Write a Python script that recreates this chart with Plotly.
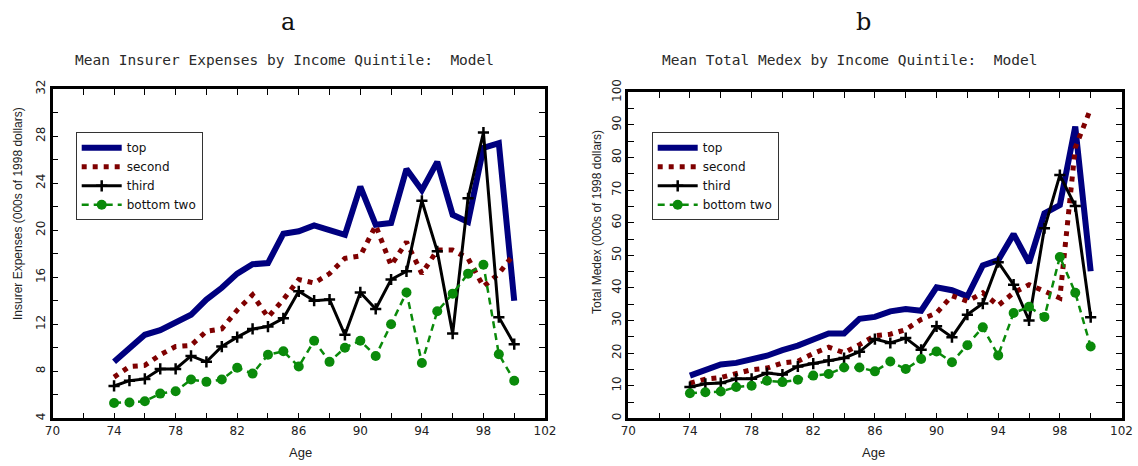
import plotly.graph_objects as go

W, H = 1138, 466

ages = list(range(74, 101))

# Mean insurer expenses (000s of 1998 dollars)
ins_top = [8.8, 10.0, 11.1, 11.5, 12.1, 12.8, 14.1, 15.1, 16.3, 17.1, 17.2, 19.7, 19.9,
           20.4, 20.0, 19.6, 23.7, 20.45, 20.6, 25.2, 23.4, 25.8, 21.3, 20.7, 27.0, 27.4, 14.0]
ins_second = [7.5, 8.4, 8.5, 9.4, 10.1, 10.2, 11.4, 11.6, 13.2, 14.5, 12.6, 14.1, 15.8,
              15.5, 16.3, 17.6, 17.8, 20.4, 17.0, 19.0, 16.3, 18.3, 18.3, 17.6, 15.2, 16.3, 18.0]
ins_third = [6.75, 7.2, 7.35, 8.2, 8.2, 9.3, 8.8, 10.1, 10.9, 11.6, 11.8, 12.5, 14.8,
             14.0, 14.1, 11.1, 14.7, 13.3, 15.8, 16.5, 22.5, 18.2, 11.2, 22.7, 28.3, 12.6, 10.3]
ins_bottom = [5.3, 5.35, 5.45, 6.1, 6.3, 7.3, 7.1, 7.3, 8.3, 7.8, 9.4, 9.7, 8.4,
              10.6, 8.8, 10.0, 10.6, 9.3, 12.0, 14.7, 8.7, 13.1, 14.6, 16.3, 17.05, 9.45, 7.2]

# Mean total medical expenses (000s of 1998 dollars)
med_top = [13.1, 14.9, 16.5, 17.0, 18.0, 19.2, 20.9, 22.3, 24.2, 26.0, 26.0, 30.5, 31.1,
           32.8, 33.5, 33.0, 40.2, 39.3, 37.4, 46.9, 48.5, 56.5, 47.7, 62.9, 65.4, 89.5, 45.1]
med_second = [10.8, 12.0, 12.5, 13.7, 14.9, 15.4, 17.0, 17.5, 19.9, 21.8, 20.1, 22.6, 25.3,
              25.8, 27.2, 30.3, 32.3, 37.6, 35.9, 38.5, 34.6, 38.5, 41.0, 39.0, 36.9, 83.0, 95.0]
med_third = [9.6, 10.6, 10.8, 12.1, 12.1, 13.9, 13.4, 15.9, 16.8, 17.7, 18.5, 20.4, 24.3,
             23.1, 24.6, 21.0, 28.2, 24.9, 31.8, 35.2, 47.9, 41.0, 30.0, 58.3, 74.6, 65.1, 31.0]
med_bottom = [7.7, 8.0, 8.2, 9.6, 10.0, 11.5, 11.1, 11.8, 13.1, 13.6, 15.6, 15.6, 14.4,
              17.4, 15.1, 18.2, 20.5, 17.2, 22.4, 27.9, 19.3, 32.3, 34.2, 31.1, 49.5, 38.5, 22.0]

series_names = ["top", "second", "third", "bottom two"]
panel_letters = ["a", "b"]
panel_titles = ["Mean Insurer Expenses by Income Quintile:  Model",
                "Mean Total Medex by Income Quintile:  Model"]
y_titles = ["Insurer Expenses (000s of 1998 dollars)",
            "Total Medex (000s of 1998 dollars)"]
x_title = "Age"

BLUE, RED, BLACK, GREEN = "#00007f", "#7f0000", "#000000", "#0a8a0a"
SANS = "DejaVu Sans"
MONO = "DejaVu Sans Mono"
LABEL = "Liberation Sans"


def px_x(v):
    return v / W


def px_y(v):
    return 1 - v / H


def add_panel(fig, data, xa, ya, legend):
    top, second, third, bottom = data
    fig.add_trace(go.Scatter(x=ages, y=top, name=series_names[0], mode="lines",
                             line=dict(color=BLUE, width=6),
                             xaxis=xa, yaxis=ya, legend=legend))
    fig.add_trace(go.Scatter(x=ages, y=second, name=series_names[1], mode="lines",
                             line=dict(color=RED, width=5, dash="5px,6px"),
                             xaxis=xa, yaxis=ya, legend=legend))
    fig.add_trace(go.Scatter(x=ages, y=third, name=series_names[2], mode="lines+markers",
                             line=dict(color=BLACK, width=3),
                             marker=dict(symbol="cross-thin", size=8,
                                         line=dict(color=BLACK, width=2.5)),
                             xaxis=xa, yaxis=ya, legend=legend))
    fig.add_trace(go.Scatter(x=ages, y=bottom, name=series_names[3], mode="lines+markers",
                             line=dict(color=GREEN, width=2.5, dash="7px,5px"),
                             marker=dict(symbol="circle", size=10, color=GREEN),
                             xaxis=xa, yaxis=ya, legend=legend))


fig = go.Figure()
add_panel(fig, (ins_top, ins_second, ins_third, ins_bottom), "x", "y", "legend")
add_panel(fig, (med_top, med_second, med_third, med_bottom), "x2", "y2", "legend2")

axis_common = dict(
    showline=True, linewidth=2.5, linecolor="black", mirror="allticks",
    ticks="inside", ticklen=6, tickwidth=1, tickcolor="black",
    showgrid=False, zeroline=False, automargin=False,
    tickfont=dict(family=SANS, size=12, color="#222"),
)

xdom_left = [px_x(52.5), px_x(545)]
xdom_right = [px_x(628.3), px_x(1121.5)]
ydom_left = [px_y(418.3), px_y(89)]
ydom_right = [px_y(418.3), px_y(92.3)]

legend_style = dict(xanchor="left", yanchor="top", bgcolor="white",
                    bordercolor="#333", borderwidth=1, itemwidth=40,
                    font=dict(family=SANS, size=12, color="#111"), tracegroupgap=0)

fig.update_layout(
    width=W, height=H, autosize=False,
    margin=dict(l=0, r=0, t=0, b=0, pad=0, autoexpand=False),
    paper_bgcolor="white", plot_bgcolor="white",
    xaxis=dict(domain=xdom_left, range=[70, 102], tickvals=list(range(70, 103, 4)),
               minor=dict(dtick=2, ticks="inside", ticklen=6, tickcolor="black"),
               anchor="y", **axis_common),
    yaxis=dict(domain=ydom_left, range=[4, 32], tickvals=list(range(4, 33, 4)),
               tickangle=-90,
               minor=dict(dtick=2, ticks="inside", ticklen=6, tickcolor="black"),
               anchor="x", **axis_common),
    xaxis2=dict(domain=xdom_right, range=[70, 102], tickvals=list(range(70, 103, 4)),
                minor=dict(dtick=2, ticks="inside", ticklen=6, tickcolor="black"),
                anchor="y2", **axis_common),
    yaxis2=dict(domain=ydom_right, range=[0, 100], tickvals=list(range(0, 101, 10)),
                tickangle=-90,
                minor=dict(dtick=5, ticks="inside", ticklen=6, tickcolor="black"),
                anchor="x2", **axis_common),
    legend=dict(x=px_x(75.7), y=px_y(132.3), **legend_style),
    legend2=dict(x=px_x(651.7), y=px_y(132.3), **legend_style),
)

annotations = []
# Panel letters
for letter, cx in zip(panel_letters, [288, 863]):
    annotations.append(dict(text=letter, x=px_x(cx), y=px_y(22), xref="paper", yref="paper",
                            showarrow=False, xanchor="center", yanchor="middle",
                            font=dict(family="DejaVu Serif", size=24, color="#111")))
# Panel titles
for title, cx in zip(panel_titles, [284, 849]):
    annotations.append(dict(text=title, x=px_x(cx), y=px_y(60), xref="paper", yref="paper",
                            showarrow=False, xanchor="center", yanchor="middle",
                            font=dict(family=MONO, size=14.5, color="#2a2a2a")))
# Axis titles
for cx in [300, 873]:
    annotations.append(dict(text=x_title, x=px_x(cx), y=px_y(452), xref="paper", yref="paper",
                            showarrow=False, xanchor="center", yanchor="middle",
                            font=dict(family=LABEL, size=13, color="#222")))
for ytitle, cx, cy in zip(y_titles, [18, 597], [214, 222]):
    annotations.append(dict(text=ytitle, x=px_x(cx), y=px_y(cy), xref="paper", yref="paper",
                            showarrow=False, xanchor="center", yanchor="middle", textangle=-90,
                            font=dict(family=LABEL, size=12, color="#222")))

fig.update_layout(annotations=annotations)

fig.write_html("out.html")
